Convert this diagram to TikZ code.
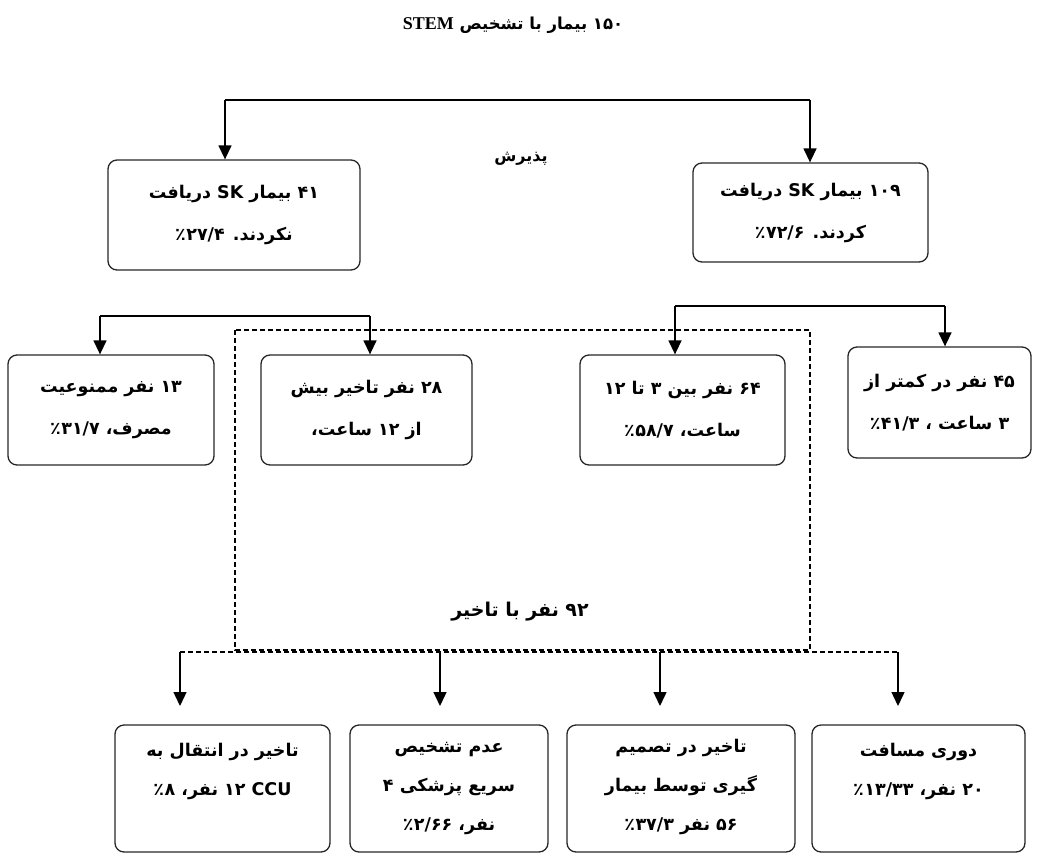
\documentclass[tikz,border=0pt]{standalone}
\usepackage{fontspec}
\usetikzlibrary{arrows.meta}
\TeXXeTstate=1
\newfontfamily\arabicfont[Script=Arabic]{DejaVu Sans}
\newfontfamily\stemfont{Liberation Serif}
\newcommand\fa[1]{\beginR #1\endR}
\newcommand\pc{\kern0.5pt ٪}
\tikzset{
  box/.style={draw=black!85, line width=1.3pt, rounded corners=9pt, align=center,
    font={\arabicfont\bfseries\fontsize{17.5}{42}\selectfont}, inner sep=0pt},
  box3/.style={box, font={\arabicfont\bfseries\fontsize{17.5}{39}\selectfont}},
  conn/.style={line width=1.4pt},
  arr/.style={line width=1.4pt, -{Triangle[width=13pt,length=14pt]}},
  dbox/.style={draw, line width=1.1pt, dash pattern=on 5pt off 3pt},
  lbl/.style={font={\arabicfont\bfseries\fontsize{18}{20}\selectfont}}
}
\begin{document}
\begin{tikzpicture}[x=1pt,y=-1pt]
\useasboundingbox (0,0) rectangle (1039,857);

% title and labels
\node[lbl, font={\arabicfont\bfseries\fontsize{16.5}{20}\selectfont}] (title) at (513,25) {\fa{۱۵۰ بیمار با تشخیص {\stemfont\bfseries\fontsize{18}{20}\selectfont STEM}}};
\node[font={\arabicfont\bfseries\fontsize{16}{18}\selectfont}] (admit) at (521,159) {\fa{پذیرش}};

% top boxes
\node[box, minimum width=252pt, minimum height=110pt] (tl) at (234,215)
  {\fa{۴۱ بیمار SK دریافت}\\\fa{نکردند. ۲۷/۴\pc}};
\node[box, minimum width=235pt, minimum height=99pt] (tr) at (810.5,212.5)
  {\fa{۱۰۹ بیمار SK دریافت}\\\fa{کردند. ۷۲/۶\pc}};

% dashed region
\draw[dbox] (235,330) rectangle (810,650);
\node[lbl, font={\arabicfont\bfseries\fontsize{19}{22}\selectfont}] (delay) at (520,612) {\fa{۹۲ نفر با تاخیر}};

% row 2
\node[box, minimum width=206pt, minimum height=110pt] (r2a) at (111,410)
  {\fa{۱۳ نفر ممنوعیت}\\\fa{مصرف، ۳۱/۷\pc}};
\node[box, minimum width=211pt, minimum height=110pt, fill=white] (r2b) at (366.5,410)
  {\fa{۲۸ نفر تاخیر بیش}\\\fa{از ۱۲ ساعت،}};
\node[box, minimum width=205pt, minimum height=110pt, fill=white] (r2c) at (682.5,410)
  {\fa{۶۴ نفر بین ۳ تا ۱۲}\\\fa{ساعت، ۵۸/۷\pc}};
\node[box, minimum width=183pt, minimum height=111pt] (r2d) at (939.5,402.5)
  {\fa{۴۵ نفر در کمتر از}\\\fa{۳ ساعت ، ۴۱/۳\pc}};

% bottom boxes
\node[box3, minimum width=215pt, minimum height=127pt] (b1) at (222.5,788.5)
  {\fa{تاخیر در انتقال به}\\\fa{CCU ۱۲ نفر، ۸\pc}\\\mbox{}};
\node[box3, minimum width=198pt, minimum height=127pt] (b2) at (449,788.5)
  {\mbox{}\\[-29pt]\fa{عدم تشخیص}\\\fa{سریع پزشکی ۴}\\\fa{نفر، ۲/۶۶\pc}};
\node[box3, minimum width=228pt, minimum height=127pt] (b3) at (681,788.5)
  {\mbox{}\\[-29pt]\fa{تاخیر در تصمیم}\\\fa{گیری توسط بیمار}\\\fa{۵۶ نفر ۳۷/۳\pc}};
\node[box3, minimum width=213pt, minimum height=127pt] (b4) at (918.5,788.5)
  {\fa{دوری مسافت}\\\fa{۲۰ نفر، ۱۳/۳۳\pc}\\\mbox{}};

% top connectors
\coordinate (t1) at (225,100);
\coordinate (t2) at (810,100);
\draw[conn] (t1) -- (t2);
\draw[arr] (t1) -- (t1 |- tl.north);
\draw[arr] (t2) -- (t2 |- tr.north);

% left connectors
\coordinate (l1) at (100,316);
\coordinate (l2) at (370,316);
\draw[conn] (l1) -- (l2);
\draw[arr] (l1) -- (l1 |- r2a.north);
\draw[arr] (l2) -- (l2 |- r2b.north);

% right connectors
\coordinate (q1) at (675,306);
\coordinate (q2) at (945,306);
\draw[conn] (q1) -- (q2);
\draw[arr] (q1) -- (q1 |- r2c.north);
\draw[arr] (q2) -- (q2 |- r2d.north);

% bottom connectors
\coordinate (d1) at (180,652);
\coordinate (d2) at (440,652);
\coordinate (d3) at (660,652);
\coordinate (d4) at (898,652);
\coordinate (e1) at (180,706);
\coordinate (e2) at (440,706);
\coordinate (e3) at (660,706);
\coordinate (e4) at (898,706);
\draw[dbox] (d1) -- (d4);
\draw[arr] (d1) -- (e1);
\draw[arr] (d2) -- (e2);
\draw[arr] (d3) -- (e3);
\draw[arr] (d4) -- (e4);
\end{tikzpicture}
\end{document}
